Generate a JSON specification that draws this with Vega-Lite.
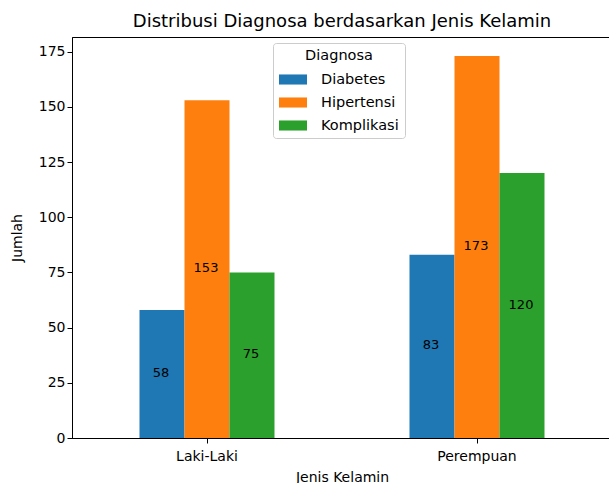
{
  "$schema": "https://vega.github.io/schema/vega-lite/v6.json",
  "width": 540,
  "height": 401,
  "autosize": {"type": "none"},
  "padding": {"left": 72, "top": 37, "right": 0, "bottom": 45},
  "background": "white",
  "title": {"text": "Distribusi Diagnosa berdasarkan Jenis Kelamin", "fontSize": 18, "fontWeight": "normal", "font": "DejaVu Sans", "color": "black", "anchor": "middle", "offset": 6},
  "data": {"values": [
    {"Jenis Kelamin": "Laki-Laki", "Diagnosa": "Diabetes", "Jumlah": 58},
    {"Jenis Kelamin": "Laki-Laki", "Diagnosa": "Hipertensi", "Jumlah": 153},
    {"Jenis Kelamin": "Laki-Laki", "Diagnosa": "Komplikasi", "Jumlah": 75},
    {"Jenis Kelamin": "Perempuan", "Diagnosa": "Diabetes", "Jumlah": 83},
    {"Jenis Kelamin": "Perempuan", "Diagnosa": "Hipertensi", "Jumlah": 173},
    {"Jenis Kelamin": "Perempuan", "Diagnosa": "Komplikasi", "Jumlah": 120}
  ]},
  "encoding": {
    "x": {"field": "Jenis Kelamin", "type": "nominal", "sort": null,
      "scale": {"paddingInner": 0.5, "paddingOuter": 0.25},
      "axis": {"labelAngle": 0, "title": "Jenis Kelamin", "labelPadding": 6, "titlePadding": 7}},
    "xOffset": {"field": "Diagnosa", "type": "nominal", "sort": null, "scale": {"paddingInner": 0, "paddingOuter": 0}}
  },
  "layer": [
    {
      "mark": {"type": "bar"},
      "encoding": {
        "y": {"field": "Jumlah", "type": "quantitative", "scale": {"domain": [0, 181.65], "nice": false},
          "axis": {"values": [0, 25, 50, 75, 100, 125, 150, 175], "title": "Jumlah", "titlePadding": 14}},
        "color": {"field": "Diagnosa", "type": "nominal", "sort": null,
          "scale": {"domain": ["Diabetes", "Hipertensi", "Komplikasi"], "range": ["#1f77b4", "#ff7f0e", "#2ca02c"]},
          "legend": {"orient": "none", "legendX": 201, "legendY": 6, "title": "Diagnosa", "titleAnchor": "middle",
            "symbolType": "M-1,-0.36H1V0.36H-1Z", "symbolSize": 784, "symbolStrokeWidth": 0,
            "strokeColor": "#cccccc", "fillColor": "white", "cornerRadius": 3, "padding": 6,
            "rowPadding": 2, "labelOffset": 14, "titlePadding": 2}}
      }
    },
    {
      "mark": {"type": "text", "fontSize": 13, "font": "DejaVu Sans", "color": "black", "baseline": "middle", "align": "center", "dx": -1, "dy": -1},
      "encoding": {
        "y": {"field": "Jumlah", "type": "quantitative", "scale": {"domain": [0, 363.3], "nice": false}, "axis": null},
        "text": {"field": "Jumlah", "type": "quantitative"}
      }
    }
  ],
  "resolve": {"scale": {"y": "independent"}},
  "config": {
    "font": "DejaVu Sans",
    "view": {"stroke": "black", "strokeWidth": 1},
    "axis": {"grid": false, "domainColor": "black", "tickColor": "black", "tickSize": 5, "labelColor": "black", "labelFontSize": 14, "titleFontSize": 14, "titleFontWeight": "normal", "titleColor": "black", "labelFont": "DejaVu Sans", "titleFont": "DejaVu Sans"},
    "legend": {"labelFontSize": 14.5, "titleFontSize": 14.5, "titleFontWeight": "normal", "labelColor": "black", "titleColor": "black", "labelFont": "DejaVu Sans", "titleFont": "DejaVu Sans"}
  }
}
